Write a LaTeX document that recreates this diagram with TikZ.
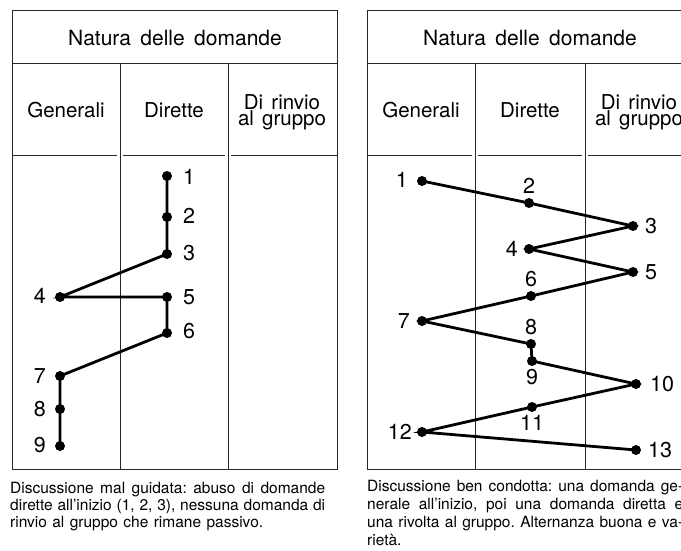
\documentclass[tikz,border=0pt]{standalone}
\usepackage{fontspec}
\setmainfont{TeX Gyre Heros}
\frenchspacing
\begin{document}
\begin{tikzpicture}[x=1pt,y=-1pt,
  frame/.style={draw=black!85, line width=0.8pt},
  dot/.style={circle, fill=black, inner sep=0pt, minimum size=10pt},
  conn/.style={line width=2.8pt},
  num/.style={font=\fontsize{21.5}{20}\selectfont, inner sep=0pt},
  ttl/.style={font=\fontsize{21}{20}\selectfont, inner sep=0pt},
  hdr/.style={font=\fontsize{20.5}{14.5}\selectfont, align=center, inner sep=0pt},
  captxt/.style={font=\fontsize{15.5}{17}\selectfont, inner sep=0pt, anchor=base west}]
\useasboundingbox (0,0) rectangle (681,550);

% ---------- left panel frame ----------
\draw[frame] (12,10) rectangle (337,469);
\draw[frame] (12,63) -- (337,63);
\draw[frame] (12,155) -- (117,155) (123,155) -- (225,155) (231,155) -- (337,155);
\draw[frame] (120,63) -- (120,469) (228,63) -- (228,469);
\node[ttl] (ltitle) at (175,38) {Natura\hspace{0.45em}delle\hspace{0.45em}domande};
\node[hdr] (lh1) at (66,110) {Generali};
\node[hdr] (lh2) at (174,110) {Dirette};
\node[hdr] (lh3) at (282,112) {Di\hspace{0.4em}rinvio\\al\hspace{0.4em}gruppo};

% ---------- right panel frame ----------
\draw[frame] (367,10) rectangle (693,469);
\draw[frame] (367,63) -- (693,63);
\draw[frame] (367,155) -- (472,155) (478,155) -- (582,155) (588,155) -- (693,155);
\draw[frame] (475,63) -- (475,469) (585,63) -- (585,469);
\node[ttl] (rtitle) at (530,38) {Natura\hspace{0.45em}delle\hspace{0.45em}domande};
\node[hdr] (rh1) at (421,110) {Generali};
\node[hdr] (rh2) at (530,110) {Dirette};
\node[hdr] (rh3) at (639,112) {Di\hspace{0.4em}rinvio\\al\hspace{0.4em}gruppo};

% ---------- left panel points ----------
\node[dot] (a1) at (167,176) {};
\node[dot] (a2) at (167,217) {};
\node[dot] (a3) at (167,254) {};
\node[dot] (a4) at (60,297) {};
\node[dot] (a5) at (167,297) {};
\node[dot] (a6) at (167,333) {};
\node[dot] (a7) at (60,376) {};
\node[dot] (a8) at (60,409) {};
\node[dot] (a9) at (60,446) {};
\draw[conn] (a1.center) -- (a2.center) -- (a3.center) -- (a4.center) -- (a5.center)
  -- (a6.center) -- (a7.center) -- (a8.center) -- (a9.center);
\node[num, anchor=west] (la1) at (183,177) {1};
\node[num, anchor=west] (la2) at (183,216) {2};
\node[num, anchor=west] (la3) at (183,253) {3};
\node[num, anchor=east] (la4) at (46,296) {4};
\node[num, anchor=west] (la5) at (183,297) {5};
\node[num, anchor=west] (la6) at (183,331) {6};
\node[num, anchor=east] (la7) at (46,376) {7};
\node[num, anchor=east] (la8) at (46,409) {8};
\node[num, anchor=east] (la9) at (46,445) {9};

% ---------- right panel points ----------
\node[dot] (b1) at (422,181) {};
\node[dot] (b2) at (529,203) {};
\node[dot] (b3) at (633,226) {};
\node[dot] (b4) at (529,249) {};
\node[dot] (b5) at (633,272) {};
\node[dot] (b6) at (531,296) {};
\node[dot] (b7) at (422,321) {};
\node[dot] (b8) at (531,344) {};
\node[dot] (b9) at (532,361) {};
\node[dot] (b10) at (636,384) {};
\node[dot] (b11) at (532,407) {};
\node[dot] (b12) at (422,432) {};
\node[dot] (b13) at (636,450) {};
\draw[conn] (b1.center) -- (b2.center) -- (b3.center) -- (b4.center) -- (b5.center)
  -- (b6.center) -- (b7.center) -- (b8.center) -- (b9.center) -- (b10.center)
  -- (b11.center) -- (b12.center) -- (b13.center);
\node[num, anchor=east] (lb1) at (408,180) {1};
\node[num] (lb2) at (529,186) {2};
\node[num, anchor=west] (lb3) at (645,226) {3};
\node[num, anchor=east] (lb4) at (518,249) {4};
\node[num, anchor=west] (lb5) at (645,272) {5};
\node[num] (lb6) at (531,279) {6};
\node[num, anchor=east] (lb7) at (410,321) {7};
\node[num] (lb8) at (531,327) {8};
\node[num] (lb9) at (532,377) {9};
\node[num, anchor=west] (lb10) at (650,384) {10};
\node[num] (lb11) at (532,423) {11};
\node[num, anchor=east] (lb12) at (412,432) {12};
\node[num, anchor=west] (lb13) at (648,450) {13};

% ---------- captions ----------
\node[captxt] (c1) at (10,493) {\makebox[315pt][s]{Discussione mal guidata: abuso di domande}};
\node[captxt] (c2) at (10,510) {\makebox[315pt][s]{dirette all’inizio (1, 2, 3), nessuna domanda di}};
\node[captxt] (c3) at (10,527) {\makebox[253pt][s]{rinvio al gruppo che rimane passivo.}};
\node[captxt] (d1) at (367,491) {\makebox[316pt][s]{Discussione ben condotta: una domanda ge-}};
\node[captxt] (d2) at (367,509) {\makebox[316pt][s]{nerale all’inizio, poi una domanda diretta e}};
\node[captxt] (d3) at (367,527) {\makebox[316pt][s]{una rivolta al gruppo. Alternanza buona e va-}};
\node[captxt] (d4) at (367,545) {rietà.};
\end{tikzpicture}
\end{document}
